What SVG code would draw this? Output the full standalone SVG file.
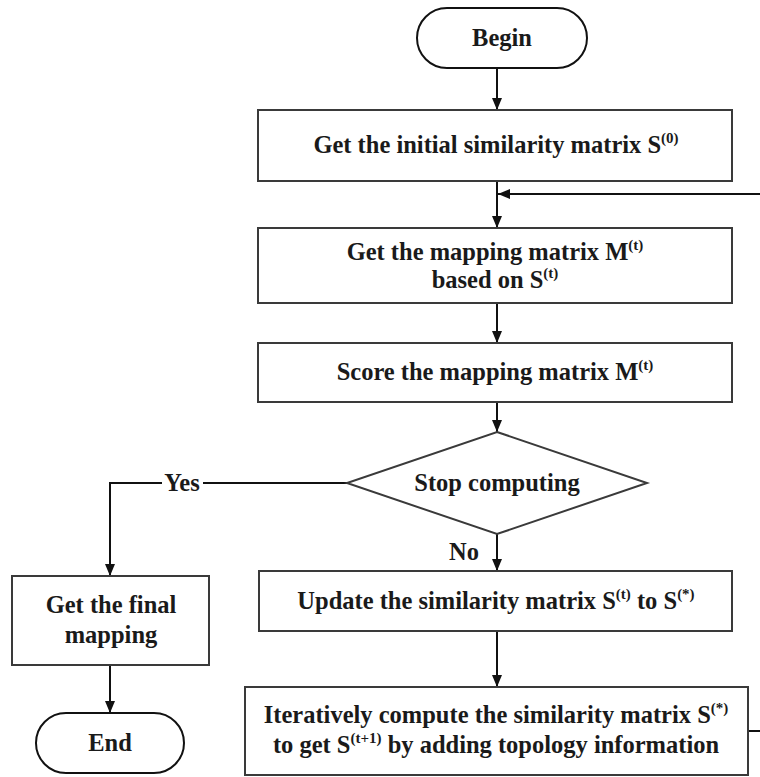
<svg xmlns="http://www.w3.org/2000/svg" width="760" height="777" viewBox="0 0 760 777">
  <defs>
    <marker id="arrow" viewBox="0 0 12 10" refX="12" refY="5" markerWidth="12" markerHeight="10" markerUnits="userSpaceOnUse" orient="auto">
      <path d="M0,0 L12,5 L0,10 Z" fill="#111"/>
    </marker>
  </defs>
  <style>
    .box { fill: #fff; stroke: #3a3a3a; stroke-width: 2; }
    .term { fill: #fff; stroke: #111; stroke-width: 2; }
    text { font-family: 'Liberation Serif', 'DejaVu Serif', serif; font-weight: 700; font-size: 24.5px; fill: #1a1a1a; text-anchor: middle; }
    .sup { font-size: 15px; }
    .conn { fill: none; stroke: #111; stroke-width: 2; }
  </style>
  <rect width="760" height="777" fill="#fff"/>

  <g id="connectors">
    <line class="conn" x1="497" y1="68" x2="497" y2="110" marker-end="url(#arrow)"/>
    <line class="conn" x1="497" y1="181" x2="497" y2="228" marker-end="url(#arrow)"/>
    <line class="conn" x1="760" y1="194" x2="498" y2="194" marker-end="url(#arrow)"/>
    <line class="conn" x1="497" y1="303" x2="497" y2="343" marker-end="url(#arrow)"/>
    <line class="conn" x1="497" y1="402" x2="497" y2="432" marker-end="url(#arrow)"/>
    <line class="conn" x1="497" y1="534" x2="497" y2="571" marker-end="url(#arrow)"/>
    <line class="conn" x1="497" y1="631" x2="497" y2="687" marker-end="url(#arrow)"/>
    <polyline class="conn" points="347,483 110,483 110,576" marker-end="url(#arrow)"/>
    <line class="conn" x1="110" y1="665" x2="110" y2="713" marker-end="url(#arrow)"/>
    <line class="conn" x1="748" y1="731" x2="760" y2="731"/>
    <rect x="162" y="470" width="41" height="26" fill="#fff"/>
    <text x="182" y="491">Yes</text>
    <text x="464" y="560">No</text>
  </g>

  <g id="begin">
    <rect class="term" x="417" y="8" width="170" height="60" rx="30" ry="30"/>
    <text x="502" y="46">Begin</text>
  </g>

  <g id="init">
    <rect class="box" x="258" y="110" width="474" height="71"/>
    <text x="496" y="153">Get the initial similarity matrix S<tspan class="sup" dy="-10">(0)</tspan></text>
  </g>

  <g id="mapping">
    <rect class="box" x="258" y="228" width="474" height="75"/>
    <text x="495" y="260">Get the mapping matrix M<tspan class="sup" dy="-10">(t)</tspan></text>
    <text x="495" y="288">based on S<tspan class="sup" dy="-10">(t)</tspan></text>
  </g>

  <g id="score">
    <rect class="box" x="258" y="343" width="474" height="59"/>
    <text x="495" y="380">Score the mapping matrix M<tspan class="sup" dy="-10">(t)</tspan></text>
  </g>

  <g id="stop">
    <polygon class="box" points="497,432 647,483 497,534 347,483"/>
    <text x="497" y="491">Stop computing</text>
  </g>

  <g id="final">
    <rect class="box" x="12" y="576" width="197" height="89"/>
    <text x="111" y="613">Get the final</text>
    <text x="111" y="643">mapping</text>
  </g>

  <g id="end">
    <rect class="term" x="36" y="713" width="148" height="60" rx="30" ry="30"/>
    <text x="110" y="751">End</text>
  </g>

  <g id="update">
    <rect class="box" x="259" y="571" width="473" height="60"/>
    <text x="496" y="609">Update the similarity matrix S<tspan class="sup" dy="-10">(t)</tspan><tspan dy="10"> to S</tspan><tspan class="sup" dy="-10">(*)</tspan></text>
  </g>

  <g id="iterate">
    <rect class="box" x="245" y="687" width="503" height="88"/>
    <text x="496" y="723">Iteratively compute the similarity matrix S<tspan class="sup" dy="-10">(*)</tspan></text>
    <text x="496" y="753">to get S<tspan class="sup" dy="-10">(t+1)</tspan><tspan dy="10"> by adding topology information</tspan></text>
  </g>
</svg>
